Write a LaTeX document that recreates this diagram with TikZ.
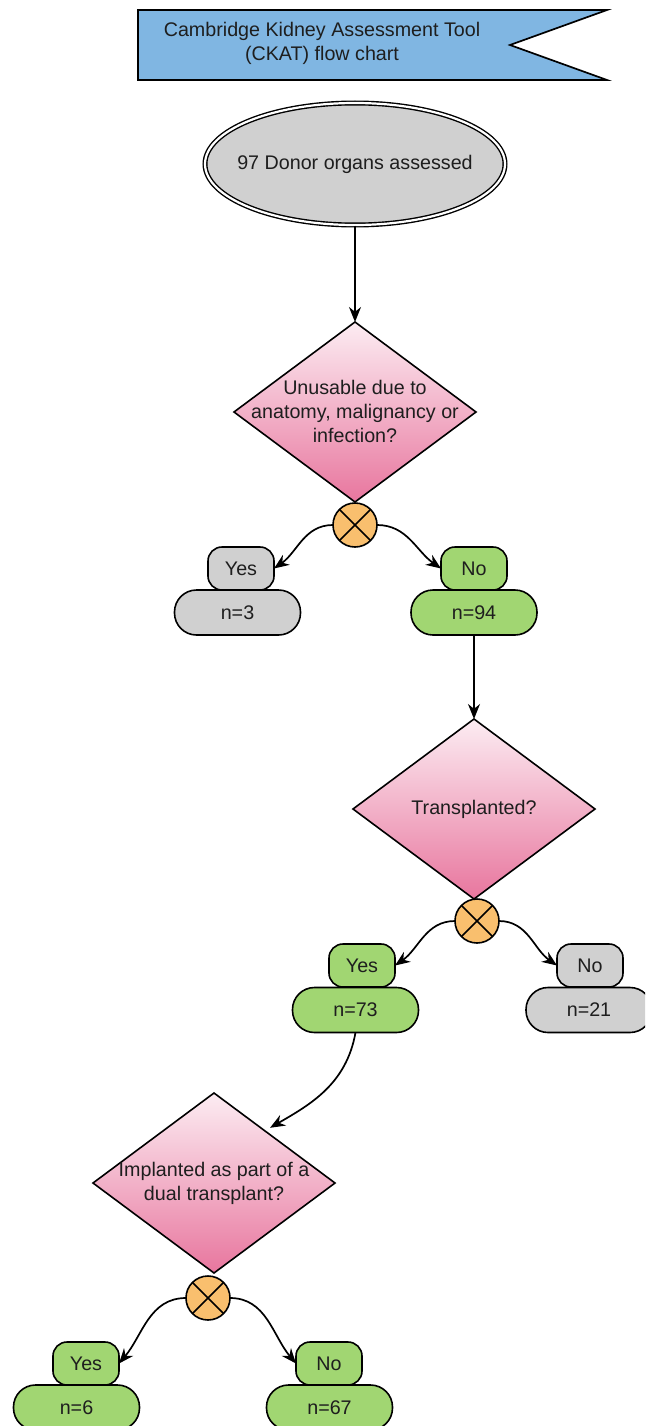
\documentclass[tikz,border=0pt]{standalone}
\usepackage{fontspec}
\setmainfont{Liberation Sans}
\usetikzlibrary{shapes.geometric,arrows.meta,calc}
\definecolor{bannerblue}{RGB}{128,182,226}
\definecolor{boxgray}{RGB}{208,208,208}
\definecolor{boxgreen}{RGB}{161,214,114}
\definecolor{xorange}{RGB}{249,191,110}
\definecolor{pinktop}{RGB}{252,236,242}
\definecolor{pinkbot}{RGB}{232,118,158}
\definecolor{ink}{RGB}{30,30,30}
\newcommand\lbl{\fontsize{19.7}{24}\selectfont}
\tikzset{
  edge/.style={line width=1.7pt},
  arr/.style={edge,-{Stealth[length=15pt,width=12pt]}},
  txt/.style={font=\lbl, align=center, inner sep=0pt, text=ink},
  dia/.style={diamond, draw, line width=1.6pt, top color=pinktop, bottom color=pinkbot, minimum width=242pt, minimum height=180pt, inner sep=0pt, outer sep=0pt},
  xnode/.style={circle, draw, line width=1.6pt, fill=xorange, minimum size=44pt, inner sep=0pt, outer sep=0pt},
  optbox/.style={draw, line width=1.6pt, rounded corners=14pt, minimum width=66pt, minimum height=43pt, inner sep=0pt, outer sep=0pt, font=\lbl, text=ink},
  countbox/.style={draw, line width=1.6pt, rounded corners=22pt, minimum width=126pt, minimum height=45pt, inner sep=0pt, outer sep=0pt, font=\lbl, text=ink}
}
\begin{document}
\begin{tikzpicture}[x=1pt,y=1pt]
\fill[white] (0,0) rectangle (645,-1426);
\clip (0,0) rectangle (645,-1426);
% banner
\draw[line width=1.7pt, fill=bannerblue] (138,-10) -- (607,-10) -- (510,-45) -- (607,-80) -- (138,-80) -- cycle;
\node[txt] (title) at (322,-43) {Cambridge Kidney Assessment Tool\\(CKAT) flow chart};
% start ellipse
\node[ellipse, draw, line width=1.4pt, double=white, double distance=2.2pt, fill=boxgray, minimum width=300pt, minimum height=122pt, inner sep=0pt] (start) at (355,-164) {};
\node[txt] (starttxt) at (start) {97 Donor organs assessed};
% decision 1
\node[dia] (d1) at (355,-412) {};
\node[txt] (d1txt) at (355,-411) {Unusable due to\\anatomy, malignancy or\\infection?};
\node[xnode] (x1) at (355,-525) {};
\draw[line width=1.6pt] (x1.north west) -- (x1.south east) (x1.north east) -- (x1.south west);
\node[optbox, fill=boxgray] (yes1) at (241,-568.5) {Yes};
\node[countbox, fill=boxgray] (n3) at (237.5,-612.5) {n=3};
\node[optbox, fill=boxgreen] (no1) at (474,-568.5) {No};
\node[countbox, fill=boxgreen] (n94) at (474,-612.5) {n=94};
% decision 2
\node[dia] (d2) at (474,-809) {};
\node[txt] (d2txt) at (d2) {Transplanted?};
\node[xnode] (x2) at (477,-921) {};
\draw[line width=1.6pt] (x2.north west) -- (x2.south east) (x2.north east) -- (x2.south west);
\node[optbox, fill=boxgreen] (yes2) at (362,-965.5) {Yes};
\node[countbox, fill=boxgreen] (n73) at (355.5,-1010) {n=73};
\node[optbox, fill=boxgray] (no2) at (590,-965.5) {No};
\node[countbox, fill=boxgray] (n21) at (589,-1010) {n=21};
% decision 3
\node[dia] (d3) at (214,-1183) {};
\node[txt] (d3txt) at (214,-1183) {Implanted as part of a\\dual transplant?};
\node[xnode] (x3) at (208,-1298) {};
\draw[line width=1.6pt] (x3.north west) -- (x3.south east) (x3.north east) -- (x3.south west);
\node[optbox, fill=boxgreen] (yes3) at (86,-1363.5) {Yes};
\node[countbox, fill=boxgreen] (n6) at (76.5,-1407.5) {n=6};
\node[optbox, fill=boxgreen] (no3) at (329,-1363.5) {No};
\node[countbox, fill=boxgreen] (n67) at (329.5,-1407.5) {n=67};
% connectors
\draw[arr] (start.south) -- (d1.north);
\draw[arr] (x1.west) to[out=180, in=35] (yes1.east);
\draw[arr] (x1.east) to[out=0, in=145] (no1.west);
\draw[arr] (n94.south) -- (d2.north);
\draw[arr] (x2.west) to[out=180, in=35] (yes2.east);
\draw[arr] (x2.east) to[out=0, in=145] (no2.west);
\draw[arr, shorten >=6pt] (n73.south) to[out=-100, in=30] ($(d3.north)!0.42!(d3.east)$);
\draw[arr] (x3.west) to[out=180, in=50] (yes3.east);
\draw[arr] (x3.east) to[out=0, in=130] (no3.west);
\end{tikzpicture}
\end{document}
